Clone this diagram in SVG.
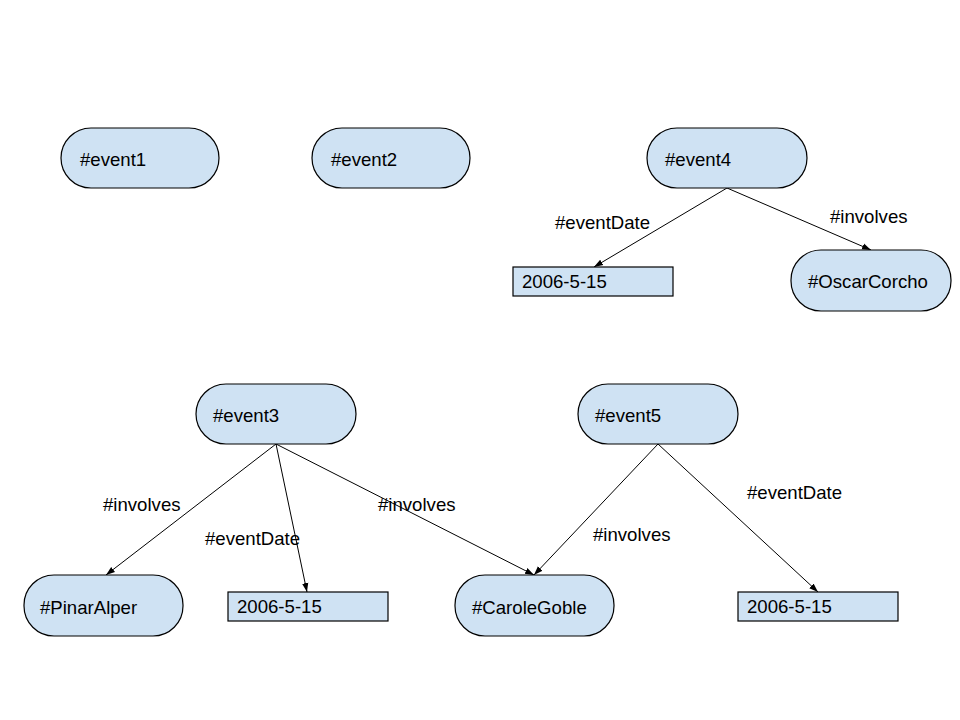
<svg xmlns="http://www.w3.org/2000/svg" width="960" height="720" viewBox="0 0 960 720">
<defs>
<marker id="arr" viewBox="0 0 10 10" refX="10" refY="5" markerWidth="9" markerHeight="9" markerUnits="userSpaceOnUse" orient="auto">
<path d="M0,1.5 L10,5 L0,8.5 z" fill="#000"/>
</marker>
<style>
.pill{fill:#cfe2f3;stroke:#000;stroke-width:1.2}
.box{fill:#cfe2f3;stroke:#000;stroke-width:1.2}
text{font-family:"Liberation Sans",Arial,sans-serif;font-size:18.6px;fill:#000}
.edge{stroke:#000;stroke-width:1;fill:none;marker-end:url(#arr)}
</style>
</defs>
<rect width="960" height="720" fill="#fff"/>
<g id="edges">
<line class="edge" x1="727" y1="188" x2="594" y2="267"/>
<line class="edge" x1="727" y1="188" x2="871" y2="250"/>
<line class="edge" x1="276" y1="444" x2="106" y2="575"/>
<line class="edge" x1="276" y1="444" x2="307" y2="592"/>
<line class="edge" x1="276" y1="444" x2="534" y2="575"/>
<line class="edge" x1="658" y1="444" x2="534" y2="575"/>
<line class="edge" x1="658" y1="444" x2="818" y2="592"/>
<text x="555" y="229">#eventDate</text>
<text x="830" y="223">#involves</text>
<text x="103" y="511">#involves</text>
<text x="205" y="545">#eventDate</text>
<text x="378" y="511">#involves</text>
<text x="593" y="541">#involves</text>
<text x="747" y="499">#eventDate</text>
</g>
<g id="event1"><rect class="pill" x="61" y="128" width="158" height="60" rx="30"/><text x="80" y="166">#event1</text></g>
<g id="event2"><rect class="pill" x="312" y="128" width="158" height="60" rx="30"/><text x="331" y="166">#event2</text></g>
<g id="event4"><rect class="pill" x="647" y="128" width="160" height="60" rx="30"/><text x="665" y="166">#event4</text></g>
<g id="date1"><rect class="box" x="513" y="267" width="160" height="29"/><text x="522" y="288">2006-5-15</text></g>
<g id="OscarCorcho"><rect class="pill" x="791" y="250" width="160" height="61" rx="30"/><text x="808" y="288">#OscarCorcho</text></g>
<g id="event3"><rect class="pill" x="196" y="384" width="160" height="60" rx="30"/><text x="213" y="422">#event3</text></g>
<g id="event5"><rect class="pill" x="578" y="384" width="160" height="60" rx="30"/><text x="595" y="422">#event5</text></g>
<g id="PinarAlper"><rect class="pill" x="24" y="575" width="159" height="61" rx="30"/><text x="40" y="614">#PinarAlper</text></g>
<g id="date2"><rect class="box" x="228" y="592" width="160" height="29"/><text x="237" y="613">2006-5-15</text></g>
<g id="CaroleGoble"><rect class="pill" x="455" y="575" width="159" height="61" rx="30"/><text x="472" y="614">#CaroleGoble</text></g>
<g id="date3"><rect class="box" x="738" y="592" width="160" height="29"/><text x="747" y="613">2006-5-15</text></g>
</svg>
